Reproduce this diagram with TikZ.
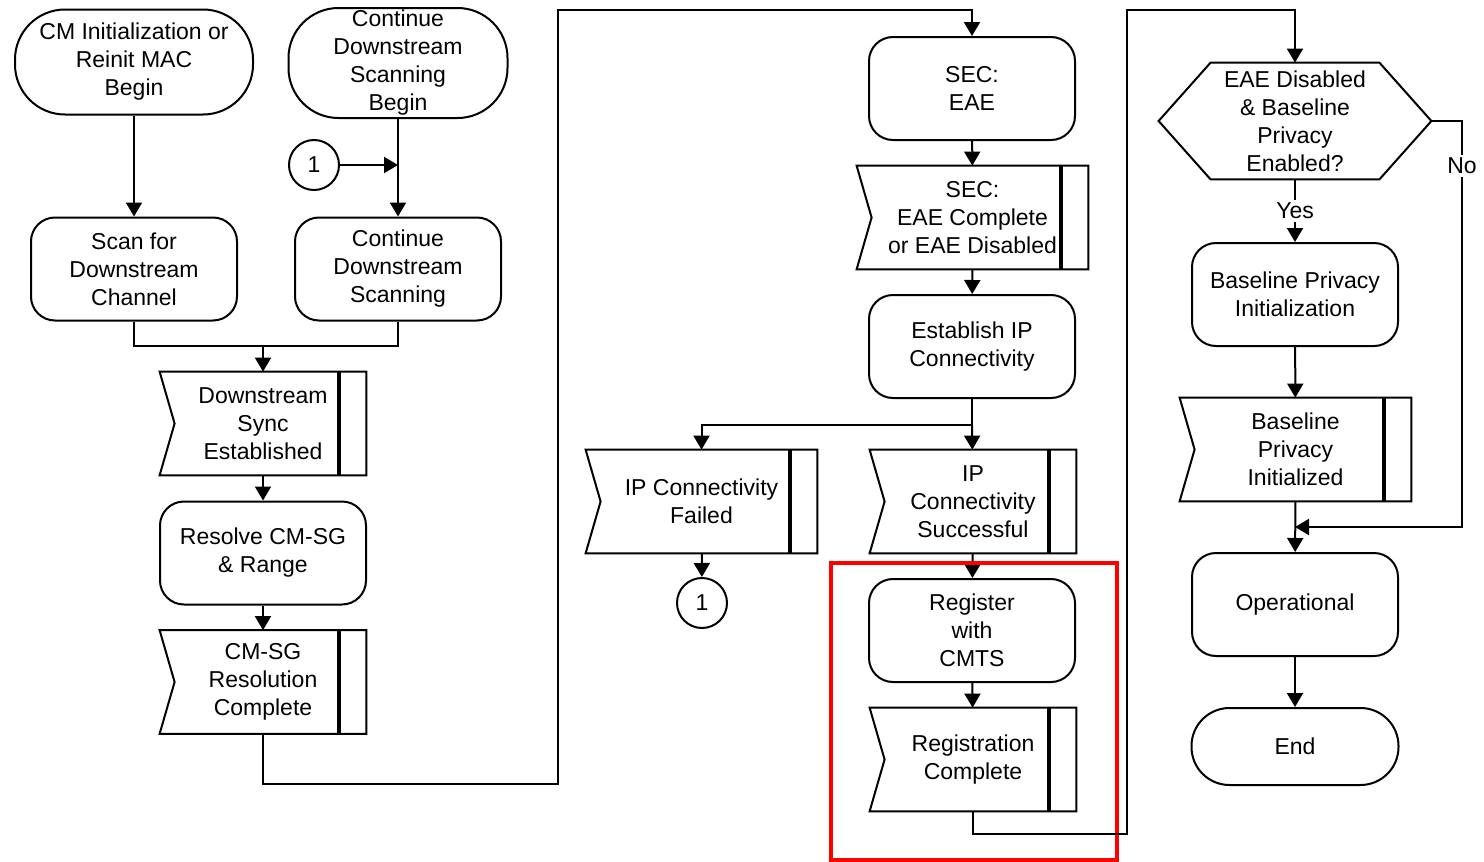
\documentclass[tikz,border=0pt]{standalone}
\usepackage{fontspec}
\setmainfont{Liberation Sans}
\usetikzlibrary{arrows.meta}

% outline of a "receive" box: notched left side and a thick bar near the right edge
\newcommand\sigshape[1]{%
  \draw[line width=1pt, line join=miter] (#1.north west) -- (#1.north east) -- (#1.south east)
    -- (#1.south west) -- ([xshift=7.5pt]#1.west) -- cycle;
  \draw[line width=2pt] ([xshift=-13.5pt]#1.north east) -- ([xshift=-13.5pt]#1.south east);}
% outline of the decision hexagon
\newcommand\hexshape[1]{%
  \draw[line width=1pt] (#1.west) -- ([xshift=26pt]#1.north west) -- ([xshift=-26pt]#1.north east)
    -- (#1.east) -- ([xshift=-26pt]#1.south east) -- ([xshift=26pt]#1.south west) -- cycle;}

\begin{document}
\begin{tikzpicture}[x=0.5pt,y=-0.5pt,
  every node/.style={font=\fontsize{11.5}{14}\selectfont, align=center, inner sep=0pt},
  arr/.style={line width=1pt, -{Triangle[length=7pt,width=8pt]}},
  ln/.style={line width=1pt},
  procbox/.style={draw, line width=1pt, rounded corners=12pt, minimum width=103pt, minimum height=51.5pt},
  termbox/.style={draw, line width=1pt, rounded corners=25pt, minimum height=52.5pt},
  sigbox/.style={minimum width=103pt, minimum height=51.5pt},
  widesig/.style={minimum width=115.5pt, minimum height=51.5pt},
  conn/.style={draw, circle, line width=1pt, minimum size=25pt},
  tag/.style={fill=white, inner sep=1.5pt}]
\useasboundingbox (0,0) rectangle (1484,862);

% ---- column 1: scanning and ranging ----
\node[termbox, minimum width=119pt] (cm) at (134,62) {CM Initialization or\\Reinit MAC\\Begin};
\node[termbox, minimum width=109.5pt, minimum height=55pt] (cont) at (398,63) {Continue\\Downstream\\Scanning\\Begin};
\node[conn] (c1) at (314,165) {1};
\coordinate (j1) at (398,165);
\node[procbox] (scan) at (134,269) {Scan for\\Downstream\\Channel};
\node[procbox] (contscan) at (398,269) {Continue\\Downstream\\Scanning};
\coordinate (m1) at (263,346);
\node[sigbox] (dse) at (263,423.5) {Downstream\\Sync\\Established};
\node[procbox] (resolve) at (263,553) {Resolve CM-SG\\\& Range};
\node[sigbox] (cmsg) at (263,682) {CM-SG\\Resolution\\Complete};
\sigshape{dse}
\sigshape{cmsg}

\draw[arr] (cm) -- (scan);
\draw[arr] (cont) -- (contscan);
\draw[arr] (c1) -- (j1);
\draw[ln] (scan.south) |- (m1) -| (contscan.south);
\draw[arr] (m1) -- (dse);
\draw[arr] (dse) -- (resolve);
\draw[arr] (resolve) -- (cmsg);

% ---- column 2: security, IP and registration ----
\node[procbox] (eae) at (972,88.5) {SEC:\\EAE};
\node[widesig] (eaec) at (972.5,217.5) {SEC:\\EAE Complete\\or EAE Disabled};
\node[procbox] (estip) at (972,346.5) {Establish IP\\Connectivity};
\coordinate (b1) at (972,425);
\node[widesig] (ipfail) at (701.5,501.5) {IP Connectivity\\Failed};
\node[sigbox] (ipok) at (973,501.5) {IP\\Connectivity\\Successful};
\node[conn] (c2) at (702,603) {1};
\node[procbox] (reg) at (972,630.5) {Register\\with\\CMTS};
\node[sigbox] (regc) at (973,759.5) {Registration\\Complete};
\sigshape{eaec}
\sigshape{ipfail}
\sigshape{ipok}
\sigshape{regc}

\coordinate (r1) at (558,784);
\coordinate (t1) at (558,10);
\draw[arr] (cmsg.south) |- (r1) -- (t1) -| (eae.north);
\draw[arr] (eae) -- (eaec);
\draw[arr] (eaec) -- (estip);
\draw[ln] (estip.south) -- (b1);
\draw[arr] (b1) -- (ipok);
\draw[arr] (b1) -| (ipfail.north);
\draw[arr] (ipfail) -- (c2);
\draw[arr] (ipok) -- (reg);
\draw[arr] (reg) -- (regc);

% highlight frame
\node[draw=red, line width=2pt, minimum width=143pt, minimum height=148.5pt] (hl) at (974,711.5) {};

% ---- column 3: baseline privacy and operation ----
\node[minimum width=136pt, minimum height=58pt] (hex) at (1295,121) {EAE Disabled\\\& Baseline\\Privacy\\Enabled?};
\hexshape{hex}
\node[procbox] (bpi) at (1295,294.5) {Baseline Privacy\\Initialization};
\node[widesig] (bpd) at (1295.5,449.5) {Baseline\\Privacy\\Initialized};
\sigshape{bpd}
\coordinate (m2) at (1295,527);
\node[procbox] (op) at (1295,604.5) {Operational};
\node[termbox, minimum width=103.5pt, minimum height=38.5pt, rounded corners=19pt] (end) at (1295,746.5) {End};

\coordinate (r3) at (1127,834);
\coordinate (t2) at (1127,10);
\draw[arr] (regc.south) |- (r3) -- (t2) -| (hex.north);
\draw[arr] (hex.south) -- node[tag] {Yes} (bpi.north);
\draw[arr] (bpi) -- (bpd);
\draw[arr] (bpd) -- (op);
\coordinate (n1) at (1462,121);
\coordinate (n2) at (1462,527);
\draw[arr] (hex.east) -- (n1) -- node[tag, pos=0.11] {No} (n2) -- (m2);
\draw[arr] (op) -- (end);
\end{tikzpicture}
\end{document}
